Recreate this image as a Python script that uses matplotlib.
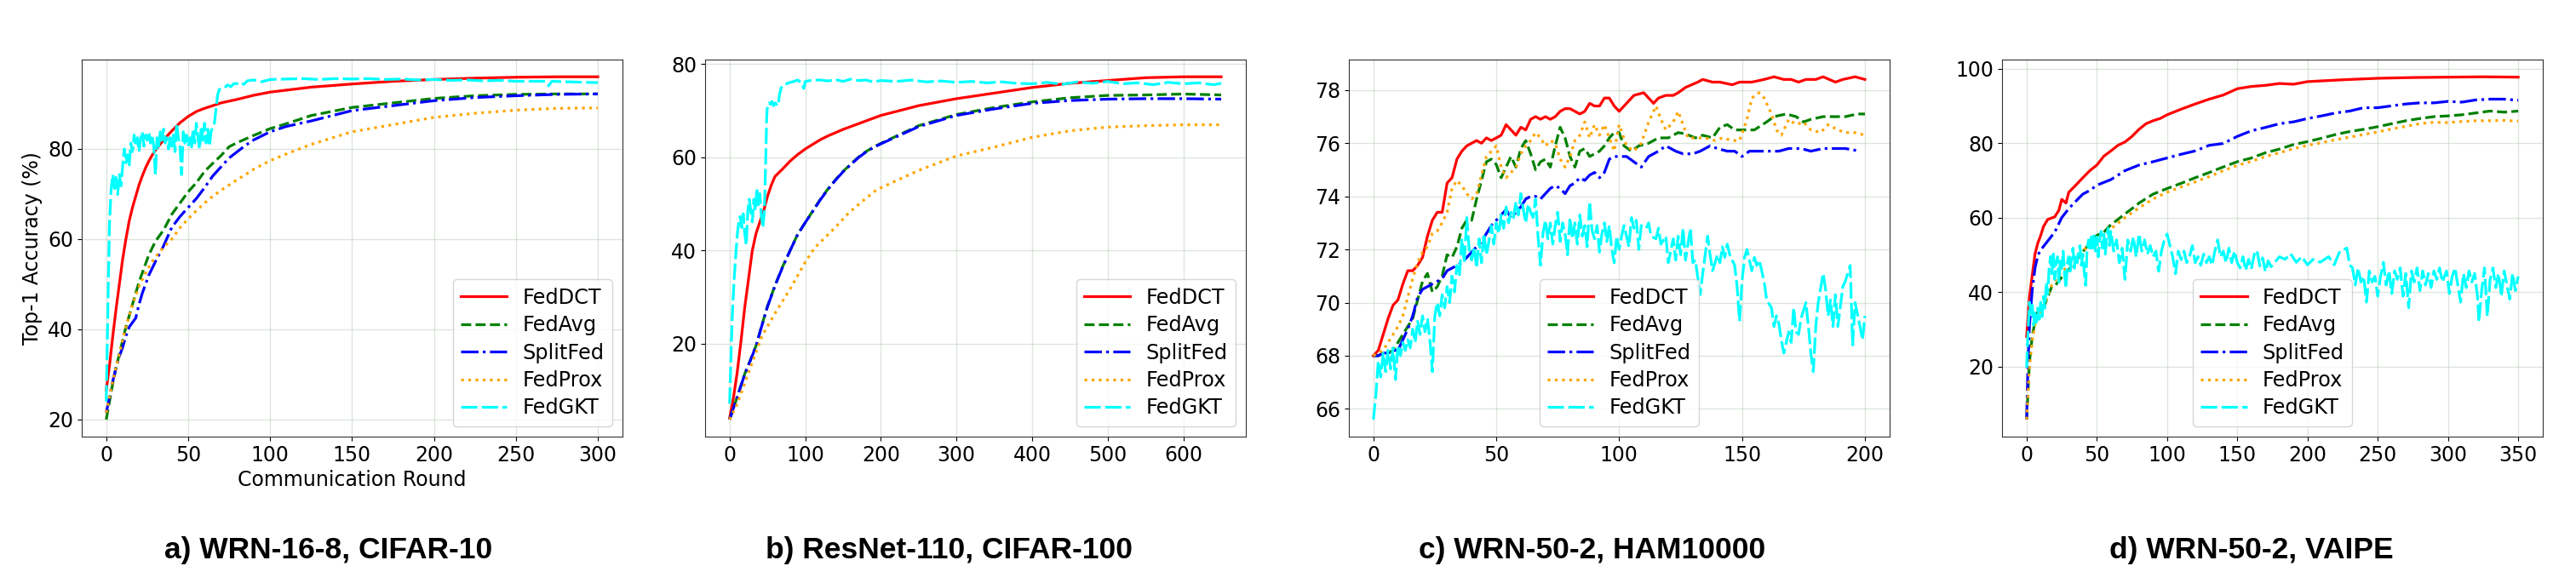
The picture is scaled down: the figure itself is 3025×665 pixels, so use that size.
import matplotlib
matplotlib.use('Agg')
import matplotlib.pyplot as plt
from matplotlib.ticker import MultipleLocator

# ---------------- data ----------------
methods = ['FedDCT', 'FedAvg', 'SplitFed', 'FedProx', 'FedGKT']
captions = ['a) WRN-16-8, CIFAR-10', 'b) ResNet-110, CIFAR-100',
            'c) WRN-50-2, HAM10000', 'd) WRN-50-2, VAIPE']

# panel a
a_dct_x = [0, 2, 4, 6, 8, 10, 12, 14, 16, 18, 20, 22, 24, 26, 28, 30, 35, 40, 45, 50, 55, 60, 65, 70, 80, 90,
           100, 125, 150, 175, 200, 225, 250, 275, 300]
a_dct_y = [26.5, 32.0, 38.5, 44.5, 50.0, 55.5, 60.0, 64.0, 67.0, 69.5, 72.0, 74.0, 75.8, 77.3, 78.6, 79.7, 82.0,
           84.0, 85.8, 87.2, 88.3, 89.0, 89.6, 90.2, 91.0, 91.9, 92.6, 93.7, 94.4, 95.0, 95.4, 95.7, 95.9, 96.0, 96.0]
a_avg_x = [0, 2, 4, 6, 8, 10, 12, 14, 16, 18, 20, 22, 24, 26, 28, 30, 35, 40, 45, 50, 55, 60, 65, 70, 75, 80, 85,
           90, 100, 110, 125, 150, 175, 200, 225, 250, 275, 300]
a_avg_y = [20.0, 24.0, 28.0, 31.5, 34.5, 37.5, 40.5, 43.0, 45.5, 48.0, 50.5, 52.5, 54.5, 56.5, 58.0, 59.5, 62.0,
           65.5, 68.0, 70.5, 72.5, 75.0, 76.8, 78.5, 80.5, 81.4, 82.2, 83.0, 84.5, 85.6, 87.4, 89.2, 90.2, 91.2,
           91.8, 92.1, 92.2, 92.2]
a_split_x = a_avg_x
a_split_y = [21.5, 25.0, 28.5, 31.5, 34.0, 36.0, 38.5, 40.5, 41.5, 42.5, 45.5, 48.0, 50.0, 52.0, 53.5, 55.0, 58.5,
             62.6, 65.0, 67.0, 69.0, 71.4, 74.0, 76.0, 78.0, 79.4, 80.8, 82.0, 83.8, 85.0, 86.2, 88.5, 89.6, 90.7,
             91.4, 91.8, 92.1, 92.2]
a_prox_x = a_avg_x
a_prox_y = [21.5, 25.0, 28.5, 31.5, 34.5, 37.5, 40.5, 43.0, 45.5, 47.5, 49.5, 51.0, 52.5, 53.8, 55.0, 56.0, 58.2,
            60.0, 62.5, 64.5, 66.3, 68.0, 69.5, 70.8, 72.0, 73.2, 74.3, 75.5, 77.4, 78.9, 81.0, 83.8, 85.4, 87.0,
            87.9, 88.6, 89.0, 89.1]
a_gkt_x = list(range(0, 70)) + [72, 74, 76, 78, 80, 82, 84, 86, 90, 95, 100, 110, 120, 130, 140, 150, 160, 170,
                                180, 190, 200, 210, 220, 230, 240, 250, 260, 268, 270, 272, 280, 290, 300]
a_gkt_y = [24.0, 44.8, 63.6, 71.2, 74.3, 71.2, 73.7, 69.9, 74.3, 71.8, 76.2, 80.0, 76.9, 78.7, 76.2, 81.3, 79.4,
           83.1, 80.6, 82.5, 79.4, 82.5, 83.8, 80.6, 83.1, 81.9, 83.8, 81.3, 83.1, 80.6, 74.3, 82.5, 80.6, 83.8,
           81.9, 84.4, 81.3, 82.5, 80.0, 82.5, 80.6, 83.1, 79.4, 85.7, 82.5, 80.6, 74.3, 83.8, 81.3, 83.1, 80.6,
           82.5, 80.0, 84.4, 81.3, 85.7, 82.5, 80.0, 85.0, 81.9, 85.7, 81.3, 84.4, 80.6, 83.8, 85.0, 85.7, 88.8,
           92.0, 93.2, 93.5, 94.2, 93.8, 94.5, 94.5, 94.8, 94.3, 95.1, 95.3, 94.9, 95.4, 95.5, 95.6, 95.4, 95.6,
           95.5, 95.6, 95.4, 95.5, 95.3, 95.4, 95.2, 95.3, 95.1, 95.2, 95.0, 95.0, 95.0, 94.0, 95.0, 94.9, 94.8,
           94.7]

# panel b
b_dct_x = [0, 5, 10, 15, 20, 25, 30, 35, 40, 45, 50, 55, 60, 70, 80, 90, 100, 110, 120, 130, 140, 150, 160, 170,
           180, 190, 200, 250, 300, 350, 400, 450, 500, 550, 600, 650]
b_dct_y = [4.0, 8.3, 13.8, 20.5, 27.8, 33.9, 40.0, 43.7, 46.1, 48.5, 51.6, 54.0, 55.9, 57.5, 59.2, 60.6, 61.8,
           62.8, 63.8, 64.6, 65.3, 66.0, 66.6, 67.2, 67.8, 68.4, 69.0, 71.1, 72.6, 73.8, 75.0, 75.9, 76.5, 77.1,
           77.3, 77.3]
b_avg_x = [0, 10, 20, 30, 36, 40, 50, 60, 70, 80, 90, 100, 110, 120, 130, 140, 150, 160, 170, 180, 190, 200, 250,
           300, 350, 400, 450, 500, 550, 600, 650]
b_avg_y = [3.7, 8.5, 13.5, 17.5, 20.0, 22.5, 28.0, 32.5, 36.5, 40.0, 43.5, 46.0, 48.5, 51.0, 53.2, 55.2, 57.0,
           58.5, 60.0, 61.2, 62.2, 63.0, 66.8, 69.2, 70.7, 71.9, 72.8, 73.3, 73.4, 73.6, 73.4]
b_split_x = b_avg_x
b_split_y = [3.7, 8.5, 13.4, 17.4, 20.0, 22.4, 27.9, 32.4, 36.4, 40.0, 43.4, 46.0, 48.4, 50.9, 53.1, 55.1, 56.9,
             58.4, 59.9, 61.1, 62.1, 62.9, 66.6, 69.0, 70.4, 71.6, 72.2, 72.5, 72.6, 72.6, 72.5]
b_prox_x = [0, 10, 20, 30, 43, 60, 81, 100, 112, 140, 157, 175, 194, 250, 300, 350, 400, 450, 500, 550, 600, 650]
b_prox_y = [3.7, 7.0, 11.5, 16.0, 21.7, 26.5, 32.0, 37.5, 40.5, 45.0, 48.0, 50.5, 53.0, 57.2, 60.3, 62.2, 64.3,
            65.7, 66.5, 66.8, 67.0, 67.0]
b_gkt_x = [0, 2, 4, 6, 8, 10, 12, 14, 16, 18, 20, 22, 24, 26, 28, 30, 32, 34, 36, 38, 40, 42, 44, 46, 48, 49, 50,
           52, 54, 56, 58, 60, 62, 64, 66, 68, 70, 75, 80, 85, 90, 95, 98, 100, 110, 120, 130, 140, 150, 160, 170,
           180, 190, 200, 220, 240, 260, 280, 300, 320, 340, 360, 380, 400, 420, 440, 460, 480, 500, 520, 540,
           560, 580, 600, 620, 640, 650]
b_gkt_y = [7.1, 18.7, 27.8, 33.9, 38.8, 43.0, 46.1, 47.3, 44.9, 47.9, 43.7, 41.2, 48.5, 51.0, 48.5, 46.1, 51.0,
           48.5, 53.4, 49.8, 52.2, 47.3, 44.9, 48.5, 61.3, 68.7, 71.1, 71.7, 71.4, 72.0, 71.1, 71.7, 71.4, 71.1,
           73.5, 74.8, 75.5, 75.8, 76.1, 76.3, 76.6, 76.0, 74.8, 76.3, 76.6, 76.6, 76.4, 76.7, 76.3, 76.8, 76.5,
           76.6, 76.2, 76.5, 76.3, 76.6, 76.2, 76.4, 76.1, 76.3, 76.0, 76.2, 75.9, 75.8, 76.1, 75.7, 76.2, 75.9,
           76.3, 75.8, 76.0, 75.6, 76.1, 75.8, 76.0, 75.6, 75.9]

# panel c
c_x = list(range(0, 101, 2))
c_dct_y = [68.0, 68.2, 68.8, 69.4, 69.9, 70.1, 70.7, 71.2, 71.2, 71.4, 71.7, 72.5, 73.1, 73.4, 73.4, 74.5, 74.7,
           75.4, 75.7, 75.9, 76.0, 76.1, 76.0, 76.2, 76.1, 76.2, 76.3, 76.7, 76.5, 76.3, 76.6, 76.5, 76.9, 77.0,
           76.9, 77.0, 76.9, 77.0, 77.2, 77.3, 77.3, 77.2, 77.1, 77.2, 77.5, 77.4, 77.4, 77.7, 77.7, 77.4, 77.2]
c_dct_x2 = [103, 106, 110, 114, 116, 119, 122, 124, 127, 132, 134, 138, 141, 146, 149, 154, 159, 163, 167, 170,
            173, 176, 180, 183, 188, 191, 196, 200]
c_dct_y2 = [77.5, 77.8, 77.9, 77.5, 77.7, 77.8, 77.8, 77.9, 78.1, 78.3, 78.4, 78.3, 78.3, 78.2, 78.3, 78.3, 78.4,
            78.5, 78.4, 78.4, 78.3, 78.4, 78.4, 78.5, 78.3, 78.4, 78.5, 78.4]
c_avg_y = [68.0, 68.0, 68.1, 68.1, 68.2, 68.5, 68.8, 69.1, 69.4, 70.1, 70.8, 71.1, 70.4, 70.6, 71.0, 71.8, 71.7,
           72.1, 72.8, 73.1, 73.1, 73.9, 74.6, 75.3, 75.4, 75.2, 74.7, 75.1, 75.5, 75.1, 75.8, 76.1, 75.6, 75.0,
           75.3, 75.4, 75.1, 75.9, 76.6, 76.2, 75.5, 75.1, 75.7, 75.8, 75.5, 75.6, 75.7, 75.9, 76.2, 76.4, 76.4]
c_avg_x2 = [102, 105, 108, 112, 116, 120, 124, 127, 131, 134, 138, 141, 144, 147, 151, 155, 160, 163, 168, 172,
            175, 178, 183, 188, 192, 197, 200]
c_avg_y2 = [75.9, 75.7, 75.9, 76.0, 76.2, 76.2, 76.4, 76.35, 76.2, 76.3, 76.2, 76.6, 76.7, 76.5, 76.5, 76.5, 76.8,
            77.0, 77.1, 77.0, 76.8, 76.9, 77.0, 77.0, 77.0, 77.1, 77.1]
c_split_y = [68.0, 68.0, 68.1, 68.1, 68.2, 68.2, 68.6, 69.0, 69.5, 70.2, 70.5, 70.6, 70.7, 70.8, 70.9, 71.2, 71.3,
             71.4, 71.5, 71.7, 71.9, 72.1, 72.3, 72.6, 72.9, 73.1, 73.3, 73.5, 73.2, 73.4, 73.6, 73.9, 74.0, 74.0,
             73.9, 74.1, 74.3, 74.4, 74.3, 74.1, 74.4, 74.5, 74.7, 74.6, 74.8, 74.9, 74.7, 74.9, 75.4, 75.5, 75.5]
c_split_x2 = [103, 106, 109, 112, 116, 119, 123, 126, 130, 133, 137, 140, 144, 147, 150, 153, 156, 160, 165, 169,
              174, 178, 183, 188, 192, 198]
c_split_y2 = [75.5, 75.3, 75.1, 75.5, 75.7, 75.9, 75.7, 75.6, 75.6, 75.7, 75.9, 75.8, 75.7, 75.7, 75.5, 75.7,
              75.7, 75.7, 75.7, 75.8, 75.8, 75.7, 75.8, 75.8, 75.8, 75.7]
c_prox_y = [68.0, 68.1, 68.2, 68.5, 68.8, 69.1, 69.5, 70.2, 70.9, 71.5, 71.9, 72.1, 72.6, 72.7, 73.0, 73.4, 74.3,
            74.6, 74.4, 74.1, 73.9, 74.1, 74.8, 75.5, 75.7, 75.9, 75.1, 74.7, 74.9, 75.1, 75.6, 75.9, 76.1, 76.4,
            76.2, 75.9, 76.1, 76.0, 75.4, 75.1, 75.5, 76.1, 76.3, 76.8, 76.2, 76.7, 76.3, 76.7, 76.2, 75.7, 76.7]
c_prox_x2 = [103, 106, 109, 112, 115, 117, 119, 122, 124, 126, 128, 132, 135, 139, 142, 146, 149, 152, 154, 157,
             159, 162, 164, 166, 169, 172, 175, 178, 182, 185, 189, 192, 196, 200]
c_prox_y2 = [75.9, 75.7, 76.0, 76.8, 77.4, 76.9, 76.5, 76.8, 77.2, 76.7, 76.2, 76.2, 76.2, 76.1, 76.2, 76.1, 76.1,
             76.9, 77.7, 77.9, 77.7, 77.1, 76.5, 76.3, 76.9, 76.7, 76.8, 76.5, 76.4, 76.7, 76.5, 76.4, 76.4, 76.3]
c_gkt_x = list(range(0, 101)) + [
    101, 102, 104, 105, 106, 107, 108, 109, 111, 112, 113, 115, 116, 117, 119, 120, 122, 123, 124, 125, 126, 127,
    129, 130, 131, 133, 134, 135, 136, 137, 138, 140, 141, 142, 143, 144, 145, 147, 148, 149, 150, 151, 152, 154,
    155, 156, 157, 158, 159, 160, 162, 163, 164, 165, 166, 167, 169, 170, 171, 172, 173, 174, 176, 177, 178, 179,
    180, 181, 183, 184, 185, 186, 187, 188, 189, 191, 192, 193, 194, 195, 196, 198, 199, 200]
c_gkt_y = [
    65.6, 66.5, 67.8, 67.2, 68.1, 67.4, 68.2, 67.5, 68.3, 67.1, 68.4, 68.0, 68.5, 68.2, 68.6, 68.3, 69.0, 68.5,
    69.3, 68.8, 69.5, 68.9, 69.4, 68.6, 67.4, 69.5, 70.0, 69.5, 70.3, 69.8, 70.6, 70.0, 71.0, 70.4, 71.4, 71.0,
    72.4, 71.5, 73.2, 72.0, 71.6, 72.1, 71.3, 72.4, 71.5, 72.6, 71.8, 72.3, 72.9, 72.2, 73.0, 72.6, 73.3, 72.8,
    73.6, 73.0, 73.4, 73.2, 73.8, 73.3, 74.1, 73.5, 73.0, 73.7, 73.4, 73.2, 73.9, 72.5, 71.4, 72.6, 73.1, 72.4,
    73.0, 72.2, 72.9, 73.4, 72.3, 73.0, 72.6, 71.8, 73.2, 72.4, 73.0, 72.2, 73.3, 72.5, 72.9, 72.1, 73.8, 72.7,
    72.4, 72.9, 71.9, 72.6, 73.0, 72.3, 72.9, 72.0, 71.5, 72.5, 72.0,
    72.5, 72.9, 72.1, 73.2, 72.8, 73.1, 72.0, 72.9, 72.8, 73.0, 72.5, 72.4, 72.8, 72.2, 72.5, 71.5, 72.4, 71.6,
    72.5, 71.8, 72.8, 71.6, 72.8, 71.5, 71.6, 70.3, 71.1, 71.8, 72.5, 71.8, 71.2, 71.8, 71.5, 72.1, 71.7, 72.2,
    71.8, 71.4, 70.6, 69.3, 70.8, 71.7, 72.0, 71.2, 71.7, 71.4, 71.6, 71.2, 70.8, 70.1, 69.8, 69.1, 69.5, 69.2,
    68.6, 68.1, 68.9, 68.5, 69.8, 68.9, 68.8, 69.4, 70.0, 69.1, 68.1, 67.4, 69.1, 70.0, 71.1, 70.5, 69.5, 70.1,
    69.1, 70.3, 69.1, 70.6, 70.8, 71.1, 71.4, 68.4, 70.0, 69.1, 68.6, 69.5]

# panel d
d_dct_x = [0, 2, 4, 6, 8, 10, 12, 15, 20, 23, 25, 28, 30, 35, 40, 45, 50, 55, 60, 65, 70, 75, 80, 85, 90, 95, 100,
           110, 120, 130, 140, 150, 160, 170, 180, 190, 200, 225, 250, 275, 300, 325, 350]
d_dct_y = [28.1, 38.7, 44.5, 50.3, 53.2, 55.2, 57.6, 59.5, 60.2, 62.0, 64.9, 63.9, 66.8, 68.7, 70.7, 72.6, 74.1,
           76.5, 77.9, 79.4, 80.3, 81.8, 83.7, 85.2, 86.0, 86.6, 87.6, 89.1, 90.5, 91.8, 92.9, 94.6, 95.2, 95.5,
           96.0, 95.8, 96.5, 97.0, 97.4, 97.6, 97.7, 97.8, 97.7]
d_split_x = [0, 1, 2, 4, 6, 8, 10, 15, 20, 25, 30, 35, 40, 45, 50, 60, 70, 80, 90, 100, 110, 120, 130, 140, 150,
             160, 170, 180, 190, 200, 210, 220, 230, 240, 250, 260, 270, 280, 290, 300, 310, 320, 330, 340, 350]
d_split_y = [5.8, 21.3, 31.0, 40.7, 46.5, 49.9, 51.3, 53.7, 56.1, 60.0, 62.4, 64.4, 66.3, 67.3, 68.7, 70.2, 72.6,
             74.1, 75.0, 76.0, 77.0, 77.9, 79.4, 79.9, 81.8, 83.3, 84.2, 85.2, 85.7, 86.6, 87.3, 88.1, 88.6, 89.5,
             89.5, 90.0, 90.5, 90.8, 90.8, 91.2, 91.0, 91.6, 91.8, 91.8, 91.5]
d_avg_x = [0, 2, 4, 6, 8, 10, 12, 15, 18, 20, 25, 30, 35, 40, 45, 50, 55, 60, 65, 70, 75, 80, 90, 100, 110, 120,
           130, 140, 150, 160, 170, 180, 190, 200, 210, 220, 230, 240, 250, 260, 270, 280, 290, 300, 310, 320, 330,
           340, 350]
d_avg_y = [5.8, 21.3, 28.1, 32.4, 34.8, 34.8, 35.8, 38.7, 41.6, 41.6, 44.0, 46.0, 48.4, 50.8, 53.2, 55.2, 56.1,
           58.1, 59.5, 61.0, 62.4, 63.9, 66.3, 67.8, 69.2, 70.7, 72.1, 73.6, 75.0, 76.0, 77.4, 78.4, 79.6, 80.4,
           81.3, 82.3, 83.1, 83.7, 84.4, 85.2, 86.0, 86.6, 87.1, 87.3, 87.6, 88.1, 88.6, 88.3, 88.6]
d_prox_x = d_avg_x
d_prox_y = [5.8, 20.0, 27.0, 31.5, 34.0, 34.5, 35.5, 39.0, 42.0, 43.0, 45.5, 47.0, 48.8, 51.0, 53.0, 54.5, 55.5,
            57.0, 58.5, 60.0, 61.3, 62.6, 65.0, 66.8, 68.2, 69.6, 71.0, 72.6, 74.0, 75.1, 76.4, 77.4, 78.5, 79.4,
            80.1, 80.9, 81.6, 82.3, 83.0, 83.8, 84.5, 85.2, 85.6, 85.5, 85.8, 86.0, 86.0, 86.1, 85.9]
d_gkt_x = list(range(0, 61)) + list(range(62, 176, 2)) + [
    180, 184, 188, 192, 196, 200, 204, 209, 215, 219, 223, 228, 230, 232, 234, 236, 238, 240, 242, 244, 246, 248,
    250, 252, 254, 256, 258, 260, 262, 264, 266, 268, 270, 272, 274, 276, 278, 280, 282, 284, 286, 288, 290, 292,
    294, 296, 299, 301, 303, 305, 307, 309, 311, 313, 315, 317, 319, 321, 322, 324, 326, 328, 330, 332, 334, 336,
    338, 340, 342, 344, 346, 348, 350]
d_gkt_y = [
    19.7, 29.6, 37.3, 34.2, 36.5, 31.1, 35.0, 31.9, 35.7, 32.7, 37.3, 33.4, 38.8, 35.7, 42.6, 39.5, 46.4, 49.5,
    44.9, 50.2, 43.4, 47.9, 49.5, 42.6, 48.7, 46.4, 51.0, 44.9, 41.1, 47.9, 49.5, 45.6, 49.5, 51.8, 46.4, 50.2,
    47.9, 51.0, 52.5, 47.2, 50.2, 45.6, 41.8, 51.0, 54.0, 51.0, 54.8, 51.8, 55.6, 51.0, 54.8, 49.5, 54.0, 56.3,
    51.8, 55.6, 50.2, 54.8, 57.1, 52.5, 56.3,
    51.0, 54.0, 47.9, 51.8, 43.4, 54.0, 51.0, 54.8, 49.5, 55.6, 51.0, 54.0, 50.2, 52.5, 49.5, 51.0, 45.6, 51.0,
    54.0, 55.6, 52.5, 49.5, 44.9, 51.0, 48.7, 51.0, 47.9, 49.5, 52.5, 47.9, 49.5, 47.2, 50.2, 47.9, 49.5, 47.2,
    51.0, 54.0, 49.5, 51.0, 47.9, 51.8, 47.9, 51.0, 47.9, 46.5, 49.5, 45.8, 48.8, 46.2, 50.0, 51.2, 47.0, 49.2,
    45.5, 48.4, 46.8,
    49.5, 48.8, 50.3, 48.0, 49.5, 47.3, 48.8, 48.0, 49.5, 47.3, 51.0, 51.8, 47.3, 46.5, 41.9, 46.5, 42.7, 44.2,
    37.3, 45.7, 42.7, 44.2, 38.9, 44.2, 48.0, 41.9, 45.7, 39.6, 45.7, 43.4, 46.5, 38.9, 45.0, 35.8, 45.7, 42.7,
    46.5, 40.4, 45.7, 41.9, 45.0, 41.2, 45.7, 43.4, 46.5, 42.7, 45.7, 39.6, 44.2, 46.5, 41.9, 37.3, 45.0, 41.2,
    45.7, 42.7, 45.0, 38.9, 32.0, 40.4, 46.5, 33.5, 43.4, 46.5, 41.2, 45.0, 38.9, 45.7, 41.9, 38.1, 45.0, 40.4,
    44.2]

# ---------------- styles ----------------
colors = ['red', 'green', 'blue', 'orange', 'cyan']
styles = ['-', '--', '-.', ':', (0, (6, 1.6))]

panels = [
    [(a_dct_x, a_dct_y), (a_avg_x, a_avg_y), (a_split_x, a_split_y), (a_prox_x, a_prox_y), (a_gkt_x, a_gkt_y)],
    [(b_dct_x, b_dct_y), (b_avg_x, b_avg_y), (b_split_x, b_split_y), (b_prox_x, b_prox_y), (b_gkt_x, b_gkt_y)],
    [(c_x + c_dct_x2, c_dct_y + c_dct_y2), (c_x + c_avg_x2, c_avg_y + c_avg_y2),
     (c_x + c_split_x2, c_split_y + c_split_y2), (c_x + c_prox_x2, c_prox_y + c_prox_y2), (c_gkt_x, c_gkt_y)],
    [(d_dct_x, d_dct_y), (d_avg_x, d_avg_y), (d_split_x, d_split_y), (d_prox_x, d_prox_y), (d_gkt_x, d_gkt_y)],
]
lefts = [0.0317, 0.2737, 0.5236, 0.7772]
ystep = [20, 20, 2, 20]
legend_locs = ['lower right', 'lower right', 'lower center', 'lower center']
caption_x = [0.1276, 0.3683, 0.6179, 0.874]

fig = plt.figure(figsize=(30.25, 6.65), dpi=100)

for i, series in enumerate(panels):
    ax = fig.add_axes([lefts[i], 0.2286, 0.2099, 0.666])
    for (xs, ys), name, col, ls in zip(series, methods, colors, styles):
        ax.plot(xs, ys, color=col, linestyle=ls, linewidth=2.3, label=name)
    ax.yaxis.set_major_locator(MultipleLocator(ystep[i]))
    ax.grid(True, color='#c5d5c5', linewidth=1.0, alpha=0.6)
    ax.tick_params(labelsize=17)
    for sp in ax.spines.values():
        sp.set_color('#333333')
    ax.legend(loc=legend_locs[i], fontsize=17.3, labelspacing=0.35, handlelength=2.25,
              handletextpad=0.75)
    if i == 0:
        ax.set_ylabel('Top-1 Accuracy (%)', fontsize=17)
        ax.set_xlabel('Communication Round', fontsize=17)
    fig.text(caption_x[i], 0.0135, captions[i], ha='center', va='baseline',
             fontsize=25.5, family='Liberation Sans', fontweight='bold')

fig.savefig('out.png', dpi=100)
